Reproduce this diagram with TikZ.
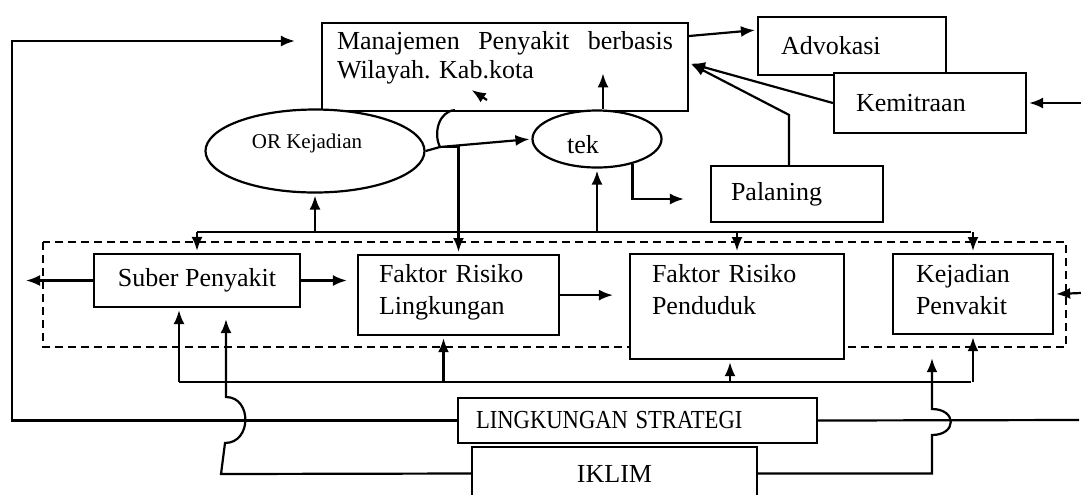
\documentclass[tikz,border=0pt]{standalone}
\usepackage{fontspec}
\usepackage{graphicx}
\setmainfont{Liberation Serif}
\usetikzlibrary{arrows.meta,shapes.geometric}
\frenchspacing

\begin{document}
\begin{tikzpicture}[x=0.5pt,y=-0.5pt,>={Latex[length=7pt,width=5.5pt]},shorten >=1pt,line width=1.1pt,
		font=\fontsize{13}{16}\selectfont,
		box/.style={rectangle, draw, fill=white, inner ysep=0pt, align=left},
		ell/.style={ellipse, draw, fill=white, inner sep=0pt}]
		\useasboundingbox (0,0) rectangle (1081,494);
		\draw[dash pattern=on 4pt off 2.5pt] (43,242) rectangle (1066,347);
		\node[box, anchor=north, inner xsep=7.5pt, text width=168pt, text height=13pt, text depth=31pt, font=\fontsize{13}{14.5}\selectfont] (mp) at (505,22) {Manajemen\hfill Penyakit\hfill berbasis\\Wilayah. Kab.kota};
		\node[box, inner xsep=11.5pt, text width=71pt, minimum height=29pt] (adv) at (852,46) {Advokasi};
		\node[box, inner xsep=11pt, text width=74pt, minimum height=30pt] (kem) at (930,103) {Kemitraan};
		\node[box, inner xsep=10pt, text width=66pt, minimum height=28pt] (pal) at (797,194) {Palaning};
		\node[ell, minimum width=109.5pt, minimum height=41.5pt, text depth=10pt, font=\fontsize{10.5}{12}\selectfont] (or) at (315,151) {OR Kejadian\hspace*{8pt}};
		\node[ell, minimum width=64.5pt, minimum height=28.5pt, text height=15pt] (tek) at (597,139) {tek\hspace*{14pt}};
		\node[box, align=center, inner xsep=0pt, minimum width=103pt, minimum height=26.5pt] (sp) at (197,280.5) {Suber Penyakit};
		\node[box, anchor=north, inner xsep=10.5pt, text width=79.5pt, text height=13.5pt, text depth=26.5pt] (frl) at (458.5,254) {Faktor Risiko\\Lingkungan};
		\node[box, anchor=north, inner xsep=11pt, text width=85pt, text height=14pt, text depth=38.5pt] (frp) at (737,253) {Faktor Risiko\\Penduduk};
		\node[box, anchor=north, inner xsep=11.5pt, text width=57pt, text height=14pt, text depth=26pt] (kp) at (973,253) {Kejadian\\Penvakit};
		\node[box, inner xsep=9pt, text width=161.5pt, minimum height=22.5pt, font=\fontsize{13}{15}\selectfont] (ls) at (637.5,420.5) {\scalebox{0.87}[1]{LINGKUNGAN STRATEGI}};
		\node[box, align=center, inner xsep=0pt, minimum width=142.5pt, minimum height=26.5pt] (ik) at (614.5,473.5) {IKLIM};
		\coordinate (lt) at (12,41);
		\coordinate (tb) at (0,232);
		\coordinate (bb) at (0,382);
		\coordinate (jn) at (440,147);
		\coordinate (kt) at (470,89);
		\coordinate (rk) at (1081,103);
		\coordinate (rp) at (1081,293);
		\coordinate (rl) at (1081,420);
		\coordinate (spl) at (24,280.5);
		% loop round the left side
		\draw[->, shorten >=13pt] (ls.west) -| (lt) -- (lt -| mp.west);
		\draw (ls.east) -- (rl);
		\path[->]
			([yshift=-7pt]mp.north east) edge ([yshift=8pt]adv.west)
			(kem.west) edge ([yshift=2pt]mp.east)
			(rk) edge (kem.east)
			(rp) edge (kp.east)
			([xshift=3pt]tek.north) edge ++(0,-38)
			(sp.west) edge (spl);
		\draw[->] ([xshift=-4pt]pal.north) -- ++(0,-50) -- ([yshift=2pt]mp.east);
		\draw[->] (or.east) -- (jn) -- (tek.west);
		\draw[->] (jn) -| (frl.north);
		\draw (jn) .. controls (433,133) and (439,111) .. (457,110);
		\draw[->] (kt) ++(17,11) -- (kt);
		\draw[->, shorten >=13pt] (tek.-35) |- ([yshift=-2.5pt]pal.west);
		\draw[->, shorten >=5pt] (sp.east) -- (frl.west |- sp.east);
		\draw[->, shorten >=8pt] (frl.east) -- (frp.west |- frl.east);
		% upper line
		\draw (sp.north |- tb) -- (kp.north |- tb);
		\path[->]
			(sp.north |- tb) edge (sp.north)
			(or.south |- tb) edge (or.south)
			(tek.south |- tb) edge (tek.south)
			(frp.north |- tb) edge (frp.north)
			(kp.north |- tb) edge (kp.north);
		% lower line
		\draw ([xshift=-9pt]sp.south |- bb) -- (kp.south |- bb);
		\path[->]
			([xshift=-9pt]sp.south |- bb) edge ([xshift=-9pt]sp.south)
			([xshift=-7.5pt]frl.south |- bb) edge ([xshift=-7.5pt]frl.south)
			([xshift=-3.5pt]frp.south |- bb) edge ([xshift=-3.5pt]frp.south)
			(kp.south |- bb) edge (kp.south);
		% iklim
		\draw[->, shorten >=5.5pt] (ik.west) -- (221,474) -- (225,443) .. controls (252,443) and (252,397) .. (226,397) -- ([xshift=14.5pt]sp.south);
		\draw[->, shorten >=11.5pt] (ik.east) -- (932,473.5) -- (932,435) .. controls (957,435) and (957,409) .. (932,409) -- ([xshift=-20.5pt]kp.south);
	\end{tikzpicture}
\end{document}
